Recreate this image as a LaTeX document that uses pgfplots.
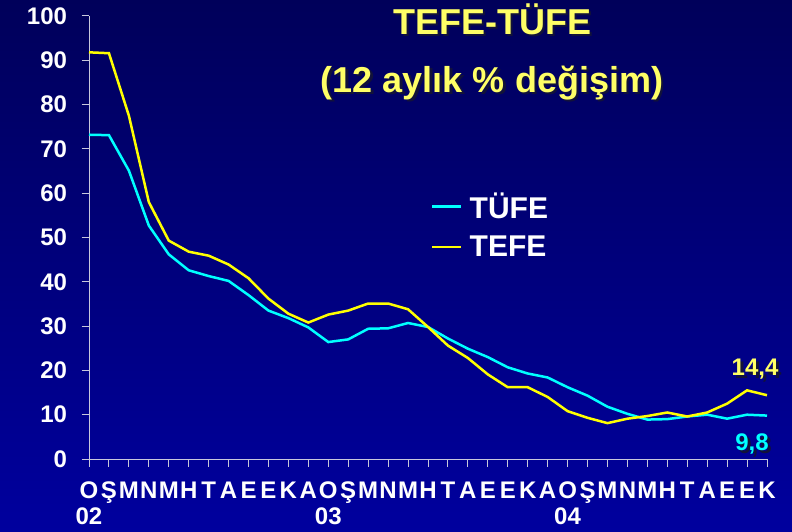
\documentclass[border=0pt]{standalone}
\usepackage{fontspec}
\setmainfont{Liberation Sans}
\usepackage{pgfplots}
\pgfplotsset{compat=1.18}
\definecolor{bgtop}{HTML}{00005A}
\definecolor{bgbot}{HTML}{00009E}
\definecolor{titleyel}{HTML}{FFFF66}
\definecolor{shadow}{HTML}{12123A}
\definecolor{axgray}{HTML}{C8C8DC}
\definecolor{tufe}{HTML}{00FFFF}
\definecolor{tefe}{HTML}{FFFF00}

\begin{document}
\begin{tikzpicture}
% slide background
\shade[top color=bgtop, bottom color=bgbot] (0pt,0pt) rectangle (792pt,531pt);

% title, with its drop shadow
\begin{scope}[every node/.style={font=\fontsize{36}{40}\selectfont\bfseries, anchor=base}]
\node[text=shadow] at (494.5pt,494pt) {TEFE-TÜFE};
\node[text=titleyel] at (492pt,496pt) {TEFE-TÜFE};
\node[text=shadow] at (494.5pt,436pt) {(12 aylık \% değişim)};
\node[text=titleyel] at (492pt,438pt) {(12 aylık \% değişim)};
\end{scope}

\begin{axis}[
  at={(89pt,72pt)}, anchor=south west,
  scale only axis,
  width=678pt, height=443pt,
  xmin=0, xmax=34,
  ymin=0, ymax=100,
  axis x line=bottom, axis y line=left,
  axis line style={axgray, line width=1pt, -},
  tick align=outside,
  major tick length=7.5pt,
  xtick={0,...,34},
  xticklabels={{O\\02},Ş,M,N,M,H,T,A,E,E,K,A,{O\\03},Ş,M,N,M,H,T,A,E,E,K,A,{O\\04},Ş,M,N,M,H,T,A,E,E,K},
  ytick={0,10,...,100},
  tick style={axgray, line width=1pt},
  tick label style={text=white, font=\fontsize{24}{26}\selectfont\bfseries},
  xticklabel style={align=center, yshift=-12pt},
  yticklabel style={xshift=-11pt},
  /pgf/number format/assume math mode=true,
  clip=false,
  legend style={at={(0.5,0.61)}, anchor=north west, draw=none, fill=none,
    text=white, font=\fontsize{30}{32}\selectfont\bfseries,
    row sep=12pt},
  legend cell align=left,
  legend image code/.code={\draw[#1] (0pt,0pt) -- (29pt,0pt); \path (34pt,0pt);},
]
\addplot[tufe, line width=2.5pt] coordinates {
  (0,73.2) (1,73.1) (2,65.1) (3,52.7) (4,46.2) (5,42.6) (6,41.3) (7,40.2)
  (8,37.0) (9,33.5) (10,31.8) (11,29.7) (12,26.4) (13,27.0) (14,29.4) (15,29.5)
  (16,30.7) (17,29.8) (18,27.2) (19,24.9) (20,23.0) (21,20.7) (22,19.3) (23,18.4)
  (24,16.2) (25,14.3) (26,11.8) (27,10.2) (28,8.9) (29,9.0) (30,9.6) (31,10.0)
  (32,9.1) (33,10.0) (34,9.8)
};
\addlegendentry{TÜFE}
\addplot[tefe, line width=2.5pt] coordinates {
  (0,91.8) (1,91.6) (2,77.5) (3,58.0) (4,49.3) (5,46.8) (6,45.9) (7,43.9)
  (8,40.8) (9,36.2) (10,32.8) (11,30.8) (12,32.6) (13,33.5) (14,35.1) (15,35.1)
  (16,33.8) (17,29.8) (18,25.6) (19,22.8) (20,19.1) (21,16.2) (22,16.2) (23,14.0)
  (24,10.8) (25,9.3) (26,8.1) (27,9.1) (28,9.7) (29,10.5) (30,9.6) (31,10.5)
  (32,12.5) (33,15.5) (34,14.4)
};
\addlegendentry{TEFE}

% end-value labels
\begin{scope}[every node/.style={font=\fontsize{24}{26}\selectfont\bfseries}]
\node[text=shadow] at ([xshift=3pt,yshift=-3pt]axis cs:33.4,20.3) {14,4};
\node[text=titleyel] at (axis cs:33.4,20.3) {14,4};
\node[text=shadow] at ([xshift=3pt,yshift=-3pt]axis cs:33.25,3.3) {9,8};
\node[text=tufe] at (axis cs:33.25,3.3) {9,8};
\end{scope}
\end{axis}
\end{tikzpicture}
\end{document}
